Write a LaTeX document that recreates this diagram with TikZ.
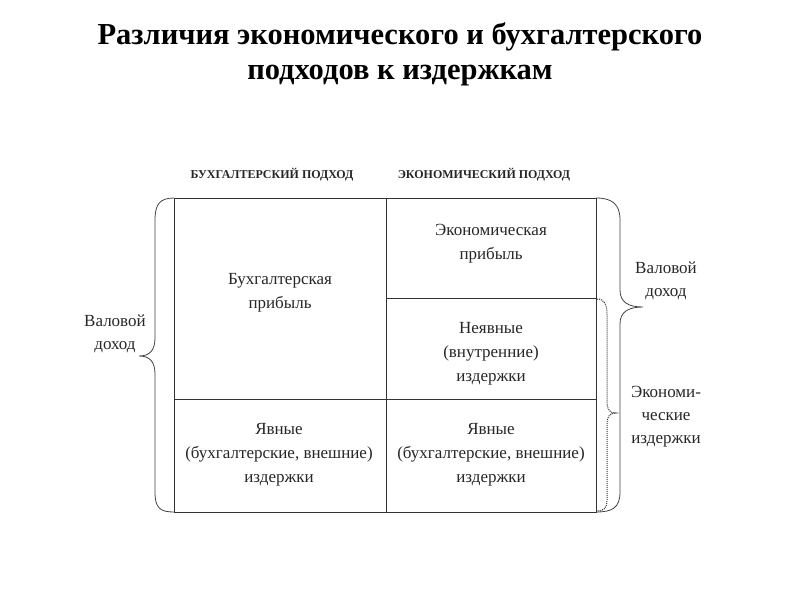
\documentclass[tikz,border=0pt]{standalone}
\usepackage{fontspec}
\setmainfont{Liberation Serif}
\begin{document}
\begin{tikzpicture}[x=1pt,y=-1pt,
  celltxt/.style={font=\fontsize{17}{24}\selectfont, align=center, text=black!85},
  sidetxt/.style={font=\fontsize{17}{23}\selectfont, align=center, text=black!85},
  headtxt/.style={font=\fontsize{12}{13}\selectfont\bfseries, text=black!85},
  titletxt/.style={font=\fontsize{30.5}{35}\selectfont\bfseries, anchor=base},
  gridline/.style={draw=black!80, line width=0.9pt},
  bracesolid/.style={draw=black!75, line width=0.8pt},
  bracedot/.style={draw=black!80, line width=1pt, dash pattern=on 1pt off 1pt}]
\useasboundingbox (0,0) rectangle (800,600);
% title
\node[titletxt] (title1) at (400,44) {Различия экономического и бухгалтерского};
\node[titletxt] (title2) at (400,79) {подходов к издержкам};
% headers
\node[headtxt] (h1) at (272,175) {БУХГАЛТЕРСКИЙ ПОДХОД};
\node[headtxt] (h2) at (484,175) {ЭКОНОМИЧЕСКИЙ ПОДХОД};
% grid
\coordinate (tl) at (174,198);
\coordinate (br) at (596,512);
\draw[gridline] (tl) rectangle (br);
\draw[gridline] (386,198) -- (386,512);
\draw[gridline] (174,399) -- (596,399);
\draw[gridline] (386,298) -- (596,298);
% cells
\node[celltxt] (c1) at (280,293) {Бухгалтерская\\прибыль};
\node[celltxt] (c2) at (491,244) {Экономическая\\прибыль};
\node[celltxt] (c3) at (491,354) {Неявные\\(внутренние)\\издержки};
\node[celltxt] (c4) at (279,455) {Явные\\(бухгалтерские, внешние)\\издержки};
\node[celltxt] (c5) at (491,455) {Явные\\(бухгалтерские, внешние)\\издержки};
% left brace
\draw[bracesolid] (174,198) .. controls (160,198) and (155,204) .. (155,220)
  -- (155,338) .. controls (155,350) and (150,356) .. (139,356)
  .. controls (150,356) and (155,362) .. (155,374)
  -- (155,492) .. controls (155,508) and (160,512) .. (174,512);
\node[sidetxt] (l1) at (115,334) {Валовой\\доход};
% right solid brace
\draw[bracesolid] (596,198) .. controls (612,198) and (620,204) .. (620,220)
  -- (620,290) .. controls (620,302) and (628,307) .. (643,307)
  .. controls (628,307) and (620,312) .. (620,324)
  -- (620,492) .. controls (620,508) and (612,512) .. (596,512);
\node[sidetxt] (r1) at (666,281) {Валовой\\доход};
% right dotted brace
\draw[bracedot] (597,299) .. controls (604,299) and (607,304) .. (607,314)
  -- (607,402) .. controls (607,410) and (610,413) .. (616,413)
  .. controls (610,413) and (607,416) .. (607,424)
  -- (607,500) .. controls (607,508) and (604,511) .. (597,511);
\node[sidetxt] (r2) at (666,417) {Экономи-\\ческие\\издержки};
\end{tikzpicture}
\end{document}
